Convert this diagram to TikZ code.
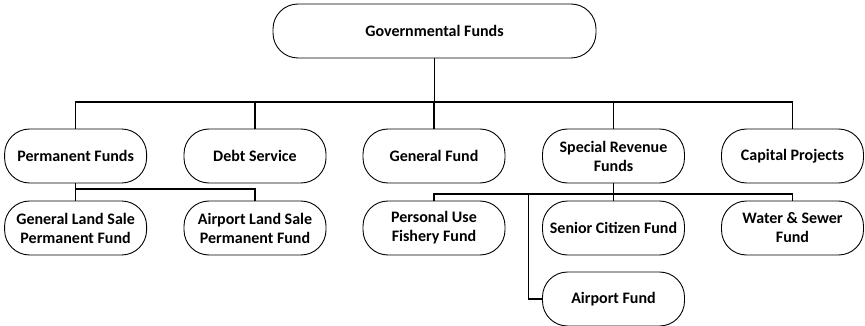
\documentclass[tikz,border=0pt]{standalone}
\usepackage{fontspec}
\setmainfont{Carlito}
\begin{document}
\begin{tikzpicture}[x=1pt,y=-1pt,
  box/.style={draw,line width=0.9pt,rounded corners=25pt,minimum width=142pt,minimum height=54pt,
    align=center,font=\bfseries\fontsize{16}{19}\selectfont,inner sep=2pt},
  conn/.style={line width=1.2pt}]
\useasboundingbox (0,0) rectangle (865,326);
\node[box,minimum width=323pt] (gov) at (434.5,31) {Governmental Funds};
\node[box] (perm) at (75.6,156) {Permanent Funds};
\node[box] (debt) at (255,156) {Debt Service};
\node[box] (gen) at (434,156) {General Fund};
\node[box] (spec) at (613.5,156) {Special Revenue\\Funds};
\node[box] (cap) at (792.5,156) {Capital Projects};
\node[box] (gls) at (75.6,228) {General Land Sale\\Permanent Fund};
\node[box] (als) at (255,228) {Airport Land Sale\\Permanent Fund};
\node[box] (pu) at (434,228) {Personal Use\\Fishery Fund};
\node[box] (sc) at (613.5,228) {Senior Citizen Fund};
\node[box] (ws) at (792.5,228) {Water \& Sewer\\Fund};
\node[box] (air) at (613.5,299) {Airport Fund};
\coordinate (bus) at (0,102);
\coordinate (pbus) at (0,189);
\coordinate (sbus) at (0,194);
\coordinate (ax) at (528.5,0);
\draw[conn] (gov.south) -- (gov.south |- bus);
\draw[conn] (perm.north) |- (cap.north |- bus) -- (cap.north);
\foreach \n in {debt,gen,spec}{\draw[conn] (\n.north) -- (\n.north |- bus);}
\draw[conn] (perm.south) -- (gls.north);
\draw[conn] (perm.south |- pbus) -| (als.north);
\draw[conn] (spec.south) -- (sc.north);
\draw[conn] (pu.north) |- (ws.north |- sbus) -- (ws.north);
\draw[conn] (ax |- sbus) |- (air.west);
\end{tikzpicture}
\end{document}
